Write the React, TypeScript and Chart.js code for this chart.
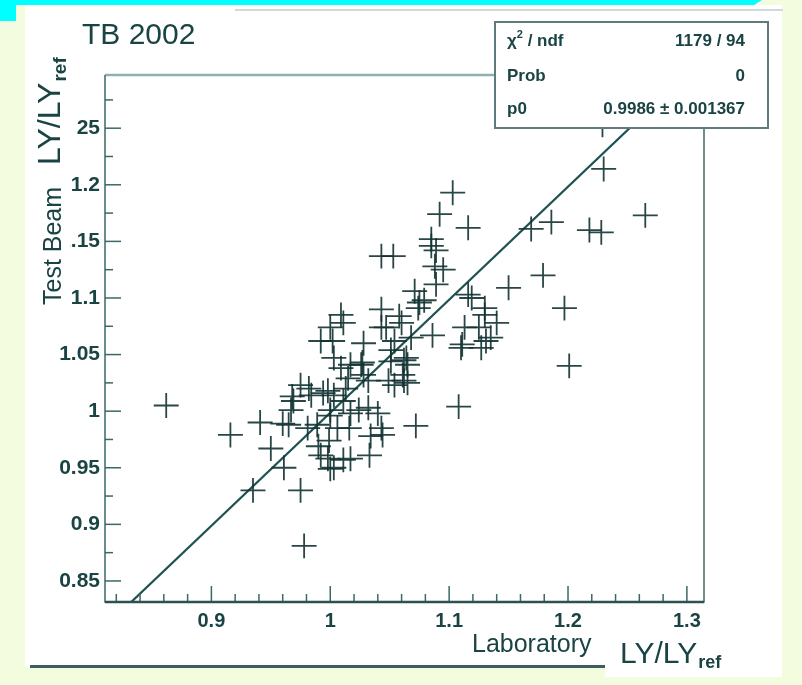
import React, { useEffect, useRef } from 'react';
import { Chart, registerables } from 'chart.js';

Chart.register(...registerables);

// Laboratory LY/LYref (x) vs Test Beam LY/LYref (y)
const labX = [
  0.862, 0.916, 0.941, 0.950, 0.961, 0.935, 0.975, 0.978, 0.967, 0.968,
  0.982, 0.994, 0.965, 0.990, 0.999, 1.003, 1.011, 1.016, 1.024, 1.033,
  1.044, 1.072, 1.062, 1.032, 1.040, 1.000, 0.998, 1.013, 0.998, 1.108,
  1.002, 1.011, 1.000, 1.017, 1.026, 1.015, 1.009, 1.028, 1.028, 1.043,
  1.047, 1.054, 1.051, 1.062, 1.065, 1.061, 1.054, 1.068, 1.074, 1.071,
  1.060, 1.064, 1.051, 1.043, 1.053, 1.085, 1.095, 1.086, 1.113, 1.125,
  1.140, 1.131, 1.116, 1.150, 1.111, 1.092, 1.103, 1.075, 1.130, 1.116,
  1.179, 1.197, 1.201, 1.169, 1.186, 1.218, 1.228, 1.265, 1.230, 1.229,
  0.975, 0.984, 0.969, 0.960, 0.981, 0.989, 1.017, 1.032, 1.049, 1.065,
  1.043, 1.058, 1.079, 1.089, 1.088, 1.089, 1.085, 1.119, 1.130, 1.135,
  1.110, 1.127, 1.009, 0.992, 1.003, 1.027, 1.003, 1.011, 1.000, 1.006,
  0.992, 1.000, 1.017, 1.043, 1.034,
];
const tbY = [
  1.005, 0.979, 0.990, 0.967, 0.950, 0.930, 0.930, 0.881, 1.001, 1.013,
  1.020, 1.016, 0.988, 0.969, 0.974, 0.950, 0.957, 0.985, 1.001, 0.961,
  0.979, 0.987, 1.027, 1.027, 0.998, 1.001, 1.018, 1.020, 0.958, 1.004,
  1.062, 1.078, 1.074, 1.041, 1.041, 1.029, 1.038, 1.032, 1.060, 1.090,
  1.074, 1.062, 1.054, 1.045, 1.041, 1.032, 1.023, 1.065, 1.091, 1.106,
  1.078, 1.047, 1.044, 1.137, 1.137, 1.146, 1.125, 1.067, 1.074, 1.074,
  1.078, 1.062, 1.162, 1.109, 1.059, 1.174, 1.193, 1.096, 1.091, 1.103,
  1.120, 1.091, 1.040, 1.161, 1.167, 1.160, 1.158, 1.173, 1.214, 1.253,
  1.023, 1.014, 1.009, 0.989, 0.985, 0.988, 0.998, 1.003, 1.027, 1.025,
  1.074, 1.084, 1.098, 1.112, 1.128, 1.142, 1.152, 1.100, 1.085, 1.065,
  1.056, 1.056, 1.085, 1.062, 1.047, 1.043, 1.014, 1.009, 0.996, 0.985,
  0.961, 0.949, 0.958, 0.985, 0.978,
];
const ERR_X = 0.0105;
const ERR_Y = 0.011;

// fit y = p0 * x
const P0 = 0.9986;
const fitRange = [0.8, 1.32];

const X_MIN = 0.8105;
const X_MAX = 1.3144;
const Y_MIN = 0.8314;
const Y_MAX = 1.297;

const statsRows = [
  ['χ2 / ndf', '1179 / 94'],
  ['Prob', '0'],
  ['p0', '0.9986 ± 0.001367'],
];

const INK = '#1a4444';
const FRAME = '#3a6868';
const FONT = '"Liberation Sans", Arial, Helvetica, sans-serif';

const fmt = (v: number) => String(Math.round(v * 100) / 100);

const bgPlugin = {
  id: 'bg',
  beforeDraw(chart: any) {
    const ctx = chart.ctx;
    ctx.save();
    ctx.fillStyle = '#f3fcde';
    ctx.fillRect(0, 0, chart.width, chart.height);
    // white pad
    ctx.fillStyle = '#ffffff';
    ctx.fillRect(25, 5, 757, 662);
    ctx.fillRect(605, 600, 177, 77);
    // faint top line
    ctx.fillStyle = '#cfdada';
    ctx.fillRect(235, 9, 548, 2);
    // cyan decoration
    ctx.fillStyle = '#00ffff';
    ctx.beginPath();
    ctx.moveTo(0, 0);
    ctx.lineTo(762, 0);
    ctx.lineTo(754, 5);
    ctx.lineTo(16, 5);
    ctx.lineTo(16, 21);
    ctx.lineTo(0, 21);
    ctx.closePath();
    ctx.fill();
    // bottom dark line
    ctx.fillStyle = '#3b5e5e';
    ctx.fillRect(30, 665, 575, 3);
    ctx.restore();
  },
};

const errPlugin = {
  id: 'errbars',
  afterDatasetsDraw(chart: any) {
    const { ctx, chartArea: a } = chart;
    const xs = chart.scales.x;
    const ys = chart.scales.y;
    ctx.save();
    ctx.beginPath();
    ctx.rect(a.left, a.top, a.right - a.left, a.bottom - a.top);
    ctx.clip();
    ctx.strokeStyle = 'rgba(18,50,50,0.9)';
    ctx.lineWidth = 1.8;
    for (let i = 0; i < labX.length; i++) {
      const cx = xs.getPixelForValue(labX[i]);
      const cy = ys.getPixelForValue(tbY[i]);
      const x0 = xs.getPixelForValue(labX[i] - ERR_X);
      const x1 = xs.getPixelForValue(labX[i] + ERR_X);
      const y0 = ys.getPixelForValue(tbY[i] - ERR_Y);
      const y1 = ys.getPixelForValue(tbY[i] + ERR_Y);
      ctx.beginPath();
      ctx.moveTo(x0, cy);
      ctx.lineTo(x1, cy);
      ctx.moveTo(cx, y0);
      ctx.lineTo(cx, y1);
      ctx.stroke();
    }
    ctx.restore();
  },
};

const decoPlugin = {
  id: 'deco',
  afterDraw(chart: any) {
    const { ctx, chartArea: a } = chart;
    const xs = chart.scales.x;
    const ys = chart.scales.y;
    ctx.save();
    // ticks (inward)
    ctx.strokeStyle = FRAME;
    ctx.lineWidth = 1.5;
    for (let k = 0; k <= 30; k++) {
      const v = 0.8 + k * 0.02;
      if (v < X_MIN || v > X_MAX) continue;
      const px = xs.getPixelForValue(v);
      const major = Math.abs(Math.round(v * 10) - v * 10) < 1e-6;
      ctx.beginPath();
      ctx.moveTo(px, a.bottom);
      ctx.lineTo(px, a.bottom - (major ? 16 : 8));
      ctx.stroke();
    }
    for (let k = 0; k <= 24; k++) {
      const v = 0.8 + k * 0.025;
      if (v < Y_MIN || v > Y_MAX) continue;
      const py = ys.getPixelForValue(v);
      const major = k % 2 === 0;
      ctx.beginPath();
      ctx.moveTo(a.left, py);
      ctx.lineTo(a.left + (major ? 16 : 8), py);
      ctx.stroke();
    }
    // frame
    ctx.strokeStyle = '#8fb0b0';
    ctx.lineWidth = 2.5;
    ctx.beginPath();
    ctx.moveTo(a.left, a.top);
    ctx.lineTo(a.right, a.top);
    ctx.stroke();
    ctx.strokeStyle = FRAME;
    ctx.lineWidth = 1.5;
    ctx.beginPath();
    ctx.moveTo(a.left, a.top);
    ctx.lineTo(a.left, a.bottom);
    ctx.lineTo(a.right, a.bottom);
    ctx.lineTo(a.right, a.top);
    ctx.stroke();
    ctx.strokeStyle = '#2e5050';
    ctx.lineWidth = 2.5;
    ctx.beginPath();
    ctx.moveTo(a.left, a.bottom);
    ctx.lineTo(a.right, a.bottom);
    ctx.stroke();

    ctx.fillStyle = INK;
    ctx.textBaseline = 'alphabetic';
    // title
    ctx.font = `30px ${FONT}`;
    ctx.textAlign = 'left';
    ctx.fillText('TB 2002', 82, 44);

    // x axis titles
    ctx.font = `25px ${FONT}`;
    ctx.fillText('Laboratory', 472, 652);
    ctx.font = `30px ${FONT}`;
    ctx.fillText('LY/LY', 620, 663);
    const wLY = ctx.measureText('LY/LY').width;
    ctx.font = `bold 18px ${FONT}`;
    ctx.fillText('ref', 620 + wLY + 1, 668);

    // y axis titles (rotated, with white boxes)
    ctx.fillStyle = '#ffffff';
    ctx.fillRect(33, 44, 43, 124);
    ctx.fillRect(38, 178, 32.5, 131);
    ctx.fillStyle = INK;
    ctx.save();
    ctx.translate(60, 165);
    ctx.rotate(-Math.PI / 2);
    ctx.font = `32px ${FONT}`;
    ctx.fillText('LY/LY', 0, 0);
    const wY = ctx.measureText('LY/LY').width;
    ctx.font = `bold 19px ${FONT}`;
    ctx.fillText('ref', wY + 1, 6);
    ctx.restore();
    ctx.save();
    ctx.translate(61, 305);
    ctx.rotate(-Math.PI / 2);
    ctx.font = `25px ${FONT}`;
    ctx.fillText('Test Beam', 0, 0);
    ctx.restore();

    // stats box
    const bx = 495, by = 22, bw = 273, bh = 106;
    ctx.fillStyle = '#ffffff';
    ctx.fillRect(bx, by, bw, bh);
    ctx.strokeStyle = '#5f7b7b';
    ctx.lineWidth = 2;
    ctx.strokeRect(bx, by, bw, bh);
    ctx.fillStyle = INK;
    const rowY = [46, 81, 114];
    statsRows.forEach((row, i) => {
      ctx.textAlign = 'left';
      if (row[0].startsWith('χ')) {
        ctx.font = `bold 17px ${FONT}`;
        ctx.fillText('χ', 507, rowY[i]);
        const w1 = ctx.measureText('χ').width;
        ctx.font = `bold 11px ${FONT}`;
        ctx.fillText('2', 507 + w1, rowY[i] - 8);
        const w2 = ctx.measureText('2').width;
        ctx.font = `bold 17px ${FONT}`;
        ctx.fillText(' / ndf', 507 + w1 + w2, rowY[i]);
      } else {
        ctx.font = `bold 17px ${FONT}`;
        ctx.fillText(row[0], 507, rowY[i]);
      }
      ctx.textAlign = 'right';
      ctx.font = `bold 17px ${FONT}`;
      ctx.fillText(row[1], 745, rowY[i]);
    });
    ctx.restore();
  },
};

export default function App() {
  const ref = useRef<HTMLCanvasElement | null>(null);
  useEffect(() => {
    if (!ref.current) return;
    const points = labX.map((x, i) => ({ x, y: tbY[i] }));
    const fitLine = fitRange.map((x) => ({ x, y: P0 * x }));
    const chart = new Chart(ref.current, {
      type: 'scatter',
      data: {
        datasets: [
          {
            data: points,
            pointRadius: 0,
            pointHoverRadius: 0,
            showLine: false,
          } as any,
          {
            type: 'line',
            data: fitLine,
            borderColor: '#1f5252',
            borderWidth: 2.2,
            pointRadius: 0,
            fill: false,
          } as any,
        ],
      },
      options: {
        responsive: false,
        animation: false,
        devicePixelRatio: 1,
        events: [],
        layout: { padding: { left: 0, top: 75, right: 98, bottom: 0 } },
        plugins: {
          legend: { display: false },
          tooltip: { enabled: false },
        },
        scales: {
          x: {
            type: 'linear',
            min: X_MIN,
            max: X_MAX,
            afterFit: (s: any) => {
              s.height = 83;
            },
            grid: { display: false, drawTicks: false },
            border: { display: false },
            ticks: {
              stepSize: 0.1,
              includeBounds: false,
              padding: 7,
              autoSkip: false,
              maxRotation: 0,
              color: INK,
              font: { family: FONT, size: 20, weight: 'bold' },
              callback: (v: any) => fmt(Number(v)),
            },
          },
          y: {
            type: 'linear',
            min: Y_MIN,
            max: Y_MAX,
            afterFit: (s: any) => {
              s.width = 105;
            },
            grid: { display: false, drawTicks: false },
            border: { display: false },
            ticks: {
              stepSize: 0.05,
              includeBounds: false,
              padding: 5,
              autoSkip: false,
              color: INK,
              font: { family: FONT, size: 21, weight: 'bold' },
              callback: (v: any) => fmt(Number(v)),
            },
          },
        },
      } as any,
      plugins: [bgPlugin, errPlugin, decoPlugin],
    });
    return () => chart.destroy();
  }, []);
  return (
    <div style={{ position: 'absolute', left: 0, top: 0, width: 802, height: 685 }}>
      <canvas ref={ref} width={802} height={685} style={{ display: 'block' }} />
    </div>
  );
}
